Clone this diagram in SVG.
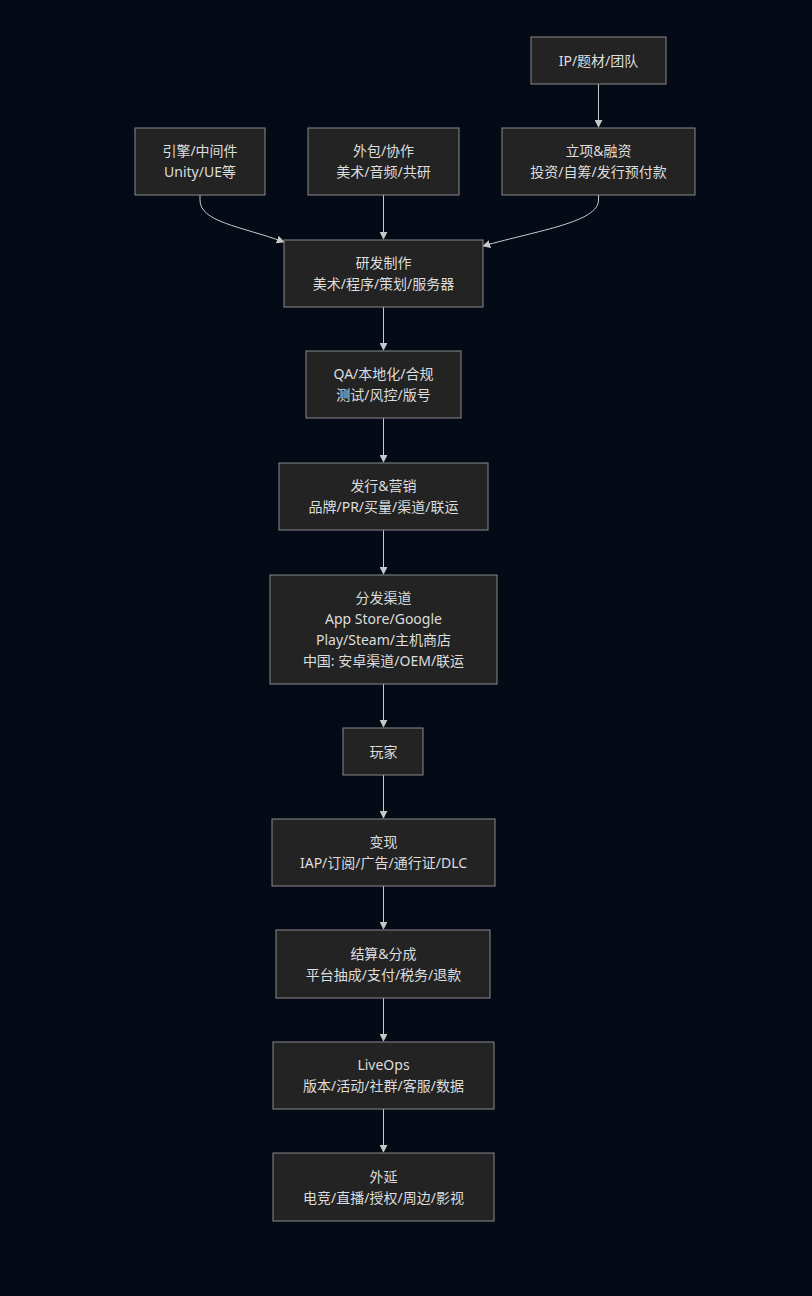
<svg xmlns="http://www.w3.org/2000/svg" width="812" height="1296" viewBox="0 0 812 1296">
<defs>
<style>
.n rect{fill:#232323;stroke:#8a8a8a;stroke-width:1}
.n text{font-family:"Noto Sans","Noto Sans CJK SC",sans-serif;font-size:14px;fill:#dddddd;text-anchor:middle}
.e path{fill:none;stroke:#c8c8c8;stroke-width:1}
</style>
<marker id="ah" viewBox="0 0 10 10" refX="9" refY="5" markerWidth="8" markerHeight="8" orient="auto" markerUnits="userSpaceOnUse">
<path d="M0,0 L10,5 L0,10 z" fill="#c8c8c8"/>
</marker>
</defs>
<rect width="812" height="1296" fill="#050b16"/>
<g class="e">
<path d="M598.5,84 L598.5,127" marker-end="url(#ah)"/>
<path d="M200,195 L200,200 C200,222 240,226 284,242" marker-end="url(#ah)"/>
<path d="M383.5,195 L383.5,239" marker-end="url(#ah)"/>
<path d="M598.5,195 L598.5,200 C598.5,222 540,230 483,246" marker-end="url(#ah)"/>
<path d="M383.5,307 L383.5,350" marker-end="url(#ah)"/>
<path d="M383.5,418 L383.5,462" marker-end="url(#ah)"/>
<path d="M383.5,530 L383.5,574" marker-end="url(#ah)"/>
<path d="M383.5,684 L383.5,727" marker-end="url(#ah)"/>
<path d="M383.5,775 L383.5,818" marker-end="url(#ah)"/>
<path d="M383.5,886 L383.5,929" marker-end="url(#ah)"/>
<path d="M383.5,998 L383.5,1041" marker-end="url(#ah)"/>
<path d="M383.5,1109 L383.5,1152" marker-end="url(#ah)"/>
</g>
<g id="ip" class="n"><rect x="531" y="37" width="135" height="47"/><text x="598.5" y="65.5">IP/题材/团队</text></g>
<g id="engine" class="n"><rect x="135" y="128" width="130" height="67"/><text x="200" y="156">引擎/中间件</text><text x="200" y="177">Unity/UE等</text></g>
<g id="outsource" class="n"><rect x="308" y="128" width="151" height="67"/><text x="383.5" y="156">外包/协作</text><text x="383.5" y="177">美术/音频/共研</text></g>
<g id="funding" class="n"><rect x="502" y="128" width="193" height="67"/><text x="598.5" y="156">立项&amp;融资</text><text x="598.5" y="177">投资/自筹/发行预付款</text></g>
<g id="dev" class="n"><rect x="284" y="240" width="199" height="67"/><text x="383.5" y="268">研发制作</text><text x="383.5" y="289">美术/程序/策划/服务器</text></g>
<g id="qa" class="n"><rect x="306" y="351" width="155" height="67"/><text x="383.5" y="379">QA/本地化/合规</text><text x="383.5" y="400">测试/风控/版号</text></g>
<g id="publish" class="n"><rect x="279" y="463" width="209" height="67"/><text x="383.5" y="491">发行&amp;营销</text><text x="383.5" y="512">品牌/PR/买量/渠道/联运</text></g>
<g id="dist" class="n"><rect x="270" y="575" width="227" height="109"/><text x="383.5" y="603">分发渠道</text><text x="383.5" y="624">App Store/Google</text><text x="383.5" y="645">Play/Steam/主机商店</text><text x="383.5" y="666">中国: 安卓渠道/OEM/联运</text></g>
<g id="player" class="n"><rect x="343" y="728" width="80" height="47"/><text x="383.5" y="756.5">玩家</text></g>
<g id="monetize" class="n"><rect x="272" y="819" width="223" height="67"/><text x="383.5" y="847">变现</text><text x="383.5" y="868">IAP/订阅/广告/通行证/DLC</text></g>
<g id="settle" class="n"><rect x="276" y="930" width="214" height="68"/><text x="383.5" y="958.5">结算&amp;分成</text><text x="383.5" y="979.5">平台抽成/支付/税务/退款</text></g>
<g id="liveops" class="n"><rect x="273" y="1042" width="221" height="67"/><text x="383.5" y="1070">LiveOps</text><text x="383.5" y="1091">版本/活动/社群/客服/数据</text></g>
<g id="ext" class="n"><rect x="273" y="1153" width="221" height="68"/><text x="383.5" y="1181.5">外延</text><text x="383.5" y="1202.5">电竞/直播/授权/周边/影视</text></g>
</svg>
